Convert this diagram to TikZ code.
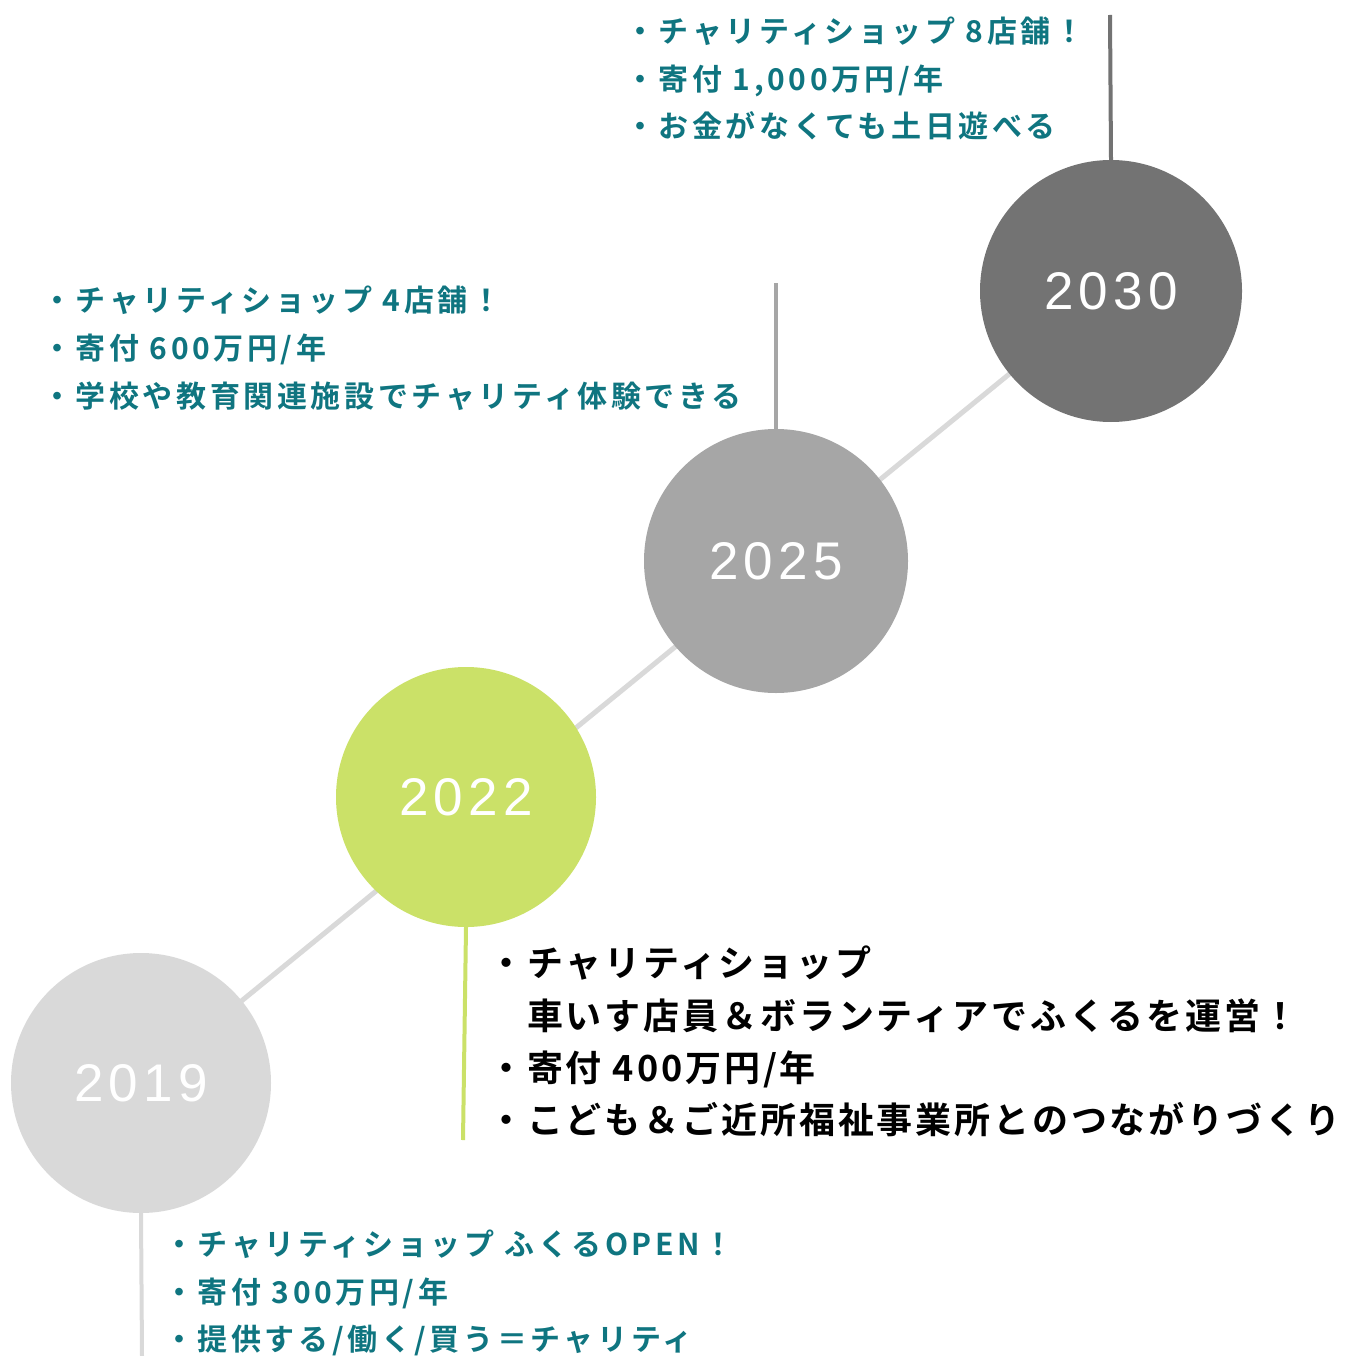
\documentclass[tikz,border=0pt]{standalone}
\usepackage{fontspec}
\usetikzlibrary{backgrounds}
\newfontfamily\cjkteal{Noto Sans CJK JP}[BoldFont={Noto Sans CJK JP Bold},LetterSpace=12]
\newfontfamily\cjkblack{Noto Sans CJK JP}[BoldFont={Noto Sans CJK JP Bold},LetterSpace=8]
\newfontfamily\yearfont{Liberation Sans}[LetterSpace=10]
\definecolor{cA}{HTML}{D9D9D9}
\definecolor{cB}{HTML}{CBE168}
\definecolor{cC}{HTML}{A6A6A6}
\definecolor{cD}{HTML}{737373}
\definecolor{tealtext}{HTML}{0F7580}
\tikzset{
  yearcirc/.style={circle, inner sep=0pt, text=white, font=\fontsize{53}{60}\selectfont\yearfont},
  tealline/.style={anchor=base west, inner sep=0pt, text=tealtext, font=\fontsize{30}{36}\selectfont\cjkteal\bfseries},
  blackline/.style={anchor=base west, inner sep=0pt, text=black, font=\fontsize{36}{40}\selectfont\cjkblack\bfseries},
  diag/.style={cA, line width=5pt},
  stem/.style={line width=4pt}
}
\begin{document}
\begin{tikzpicture}[x=1pt,y=-1pt]
\useasboundingbox (0,0) rectangle (1346,1356);
\node[yearcirc, fill=cA, minimum size=260pt] (y19) at (141,1083) {2019};
\node[yearcirc, fill=cB, minimum size=260pt] (y22) at (466,797) {2022};
\node[yearcirc, fill=cC, minimum size=264pt] (y25) at (776,561) {2025};
\node[yearcirc, fill=cD, minimum size=262pt] (y30) at (1111,291) {2030};
\begin{scope}[on background layer]
\draw[diag] (y19.center) -- (y30.center);
\end{scope}
\coordinate (e30) at (1110,15);
\coordinate (e25) at (776,283);
\coordinate (e22) at (463,1140);
\coordinate (e19) at (142,1356);
\draw[stem, cD] (y30.north) -- (e30);
\draw[stem, cC] (y25.north) -- (e25);
\draw[stem, cB] (y22.south) -- (e22);
\draw[stem, cA] (y19.south) -- (e19);
% 2030
\node[tealline] (t30a) at (625,43) {・チャリティショップ 8店舗！};
\node[tealline] (t30b) at (625,91) {・寄付 1,000万円/年};
\node[tealline] (t30c) at (625,138) {・お金がなくても土日遊べる};
% 2025
\node[tealline] (t25a) at (42,311) {・チャリティショップ 4店舗！};
\node[tealline] (t25b) at (42,359) {・寄付 600万円/年};
\node[tealline] (t25c) at (42,407) {・学校や教育関連施設でチャリティ体験できる};
% 2022
\node[blackline] (t22a) at (488,976) {・チャリティショップ};
\node[blackline] (t22b) at (488,1029) {　車いす店員＆ボランティアでふくるを運営！};
\node[blackline] (t22c) at (488,1081) {・寄付 400万円/年};
\node[blackline] (t22d) at (488,1133) {・こども＆ご近所福祉事業所とのつながりづくり};
% 2019
\node[tealline] (t19a) at (164,1255) {・チャリティショップ ふくるOPEN！};
\node[tealline] (t19b) at (164,1303) {・寄付 300万円/年};
\node[tealline] (t19c) at (164,1350) {・提供する/働く/買う＝チャリティ};
\end{tikzpicture}
\end{document}
